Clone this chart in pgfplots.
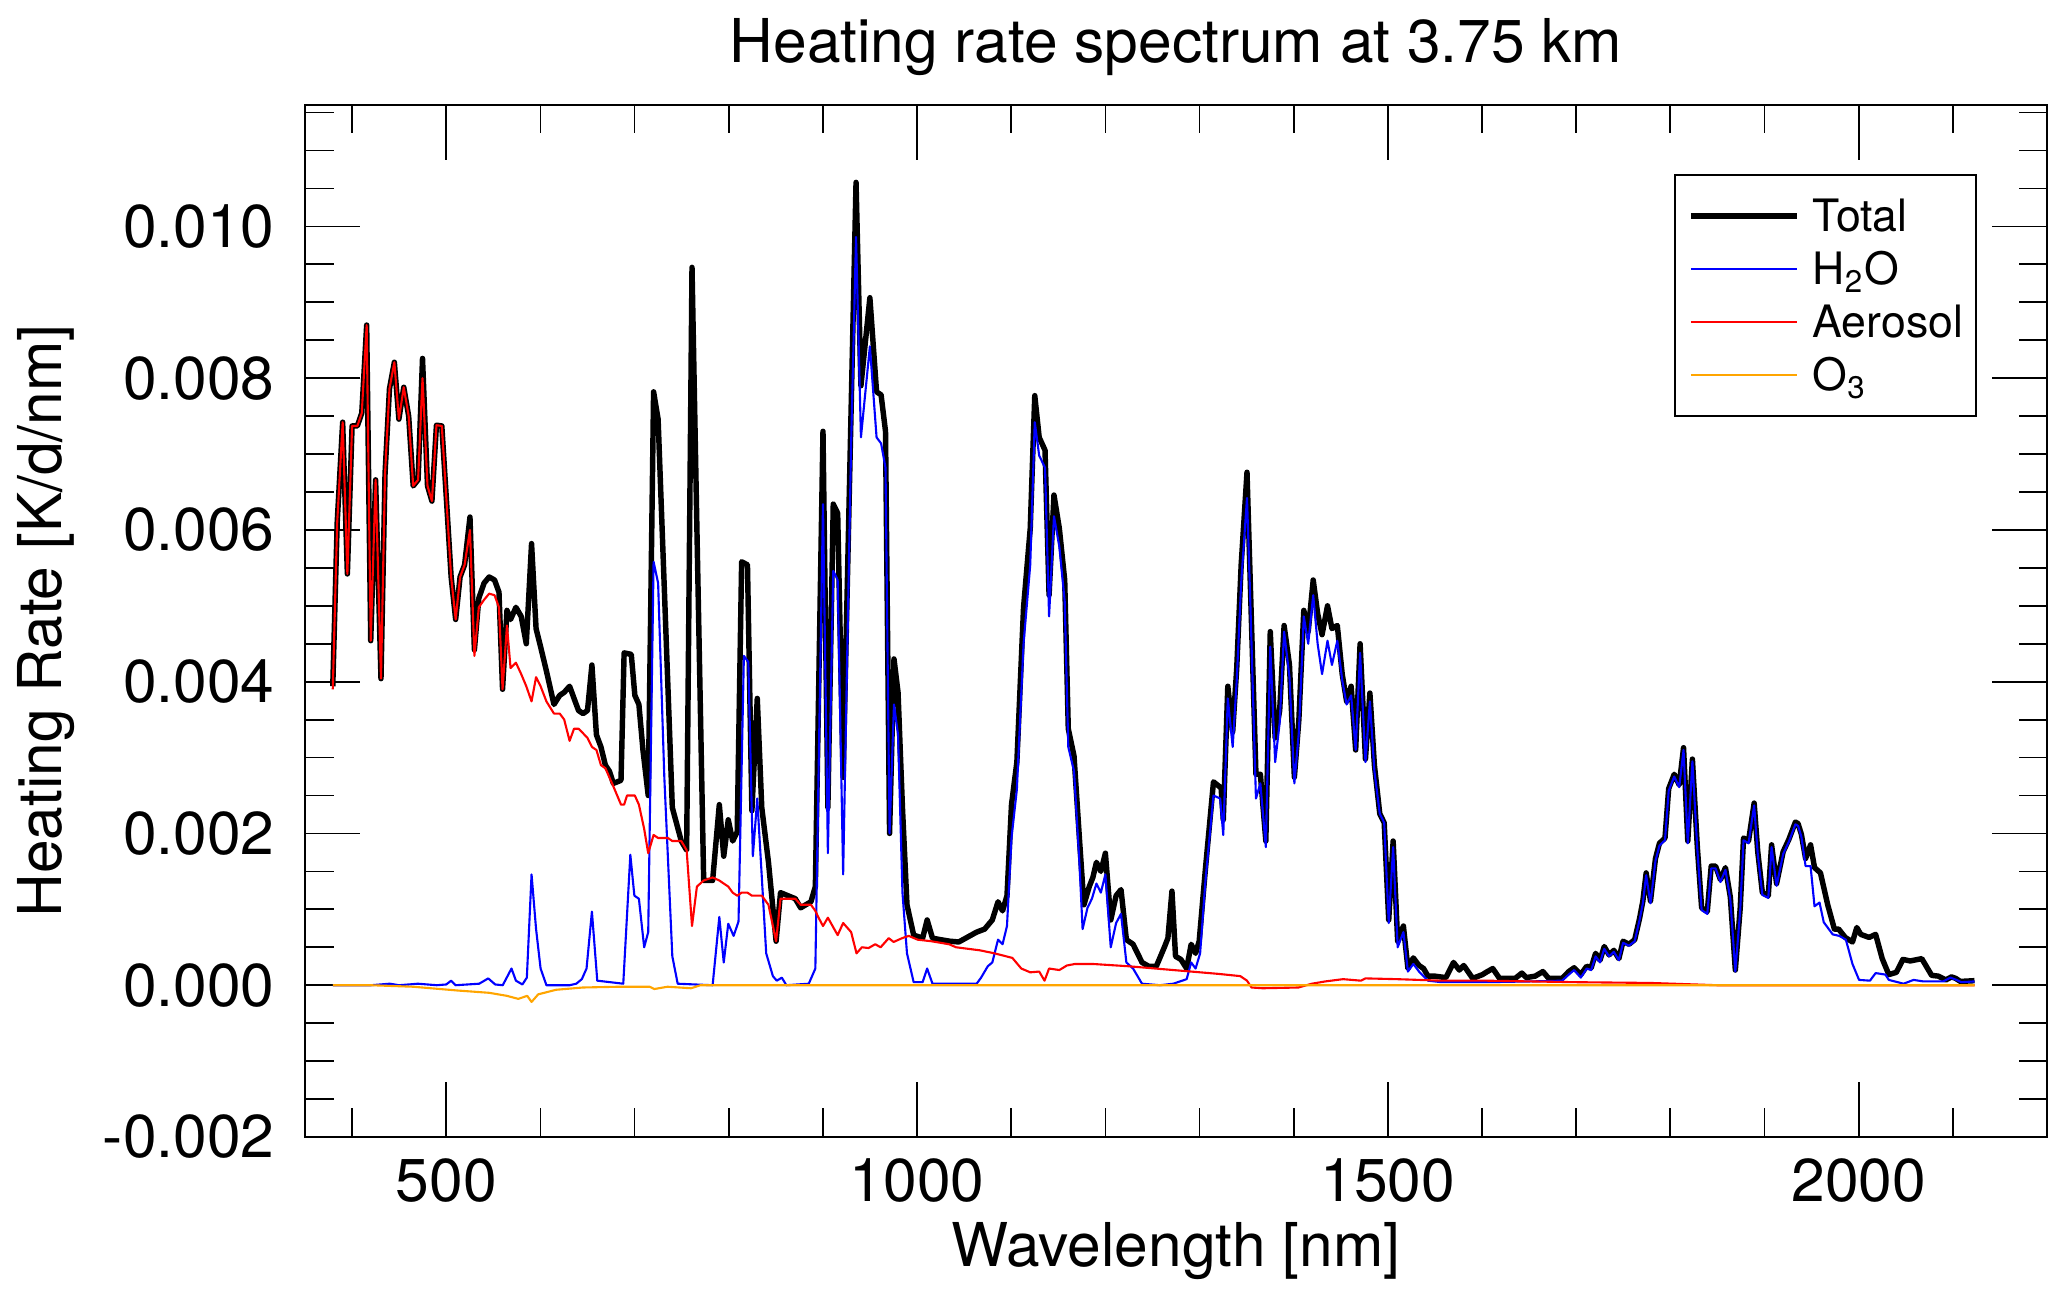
\documentclass[border=0pt]{standalone}
\usepackage{pgfplots}
\pgfplotsset{compat=1.18}
\usepackage{fontspec}
\setmainfont{TeX Gyre Heros}
\definecolor{idlorange}{RGB}{255,165,0}
\newcommand{\bigf}{\fontsize{17.2}{20}\selectfont}
\begin{document}
\begin{tikzpicture}
\begin{axis}[
  scale only axis,
  width=174.2mm, height=103.2mm,
  xmin=350, xmax=2200, ymin=-0.002, ymax=0.0116,
  xtick={500,1000,1500,2000}, xticklabels={500,1000,1500,2000},
  minor xtick={400,600,700,800,900,1100,1200,1300,1400,1600,1700,1800,1900,2100},
  ytick={-0.002,0,0.002,0.004,0.006,0.008,0.010},
  yticklabels={-0.002,0.000,0.002,0.004,0.006,0.008,0.010},
  minor ytick={-0.0015,-0.001,-0.0005,0.0005,0.001,0.0015,0.0025,0.003,0.0035,0.0045,0.005,0.0055,0.0065,0.007,0.0075,0.0085,0.009,0.0095,0.0105,0.011,0.0115},
  scaled ticks=false,
  tick align=inside,
  major tick length=5.5mm, minor tick length=2.85mm,
  tick style={black, line width=0.5pt},
  axis line style={line width=0.6pt},
  tick label style={font=\bigf, inner sep=0pt},
  xticklabel style={yshift=-2.1mm},
  yticklabel style={xshift=-3mm},
  xlabel={Wavelength [nm]},
  ylabel={Heating Rate [K/d/nm]},
  title={Heating rate spectrum at 3.75 km},
  xlabel style={font=\bigf, inner sep=0pt, at={(axis description cs:0.5,-0.0824)}, anchor=north},
  ylabel style={font=\bigf, inner sep=0pt, at={(axis description cs:-0.1653,0.5)}, anchor=north},
  every axis title/.style={font=\bigf, inner sep=0pt, at={(axis description cs:0.5,1.0843)}, anchor=north},
  legend cell align=left,
  legend image code/.code={\draw[#1] (0mm,0mm) -- (10.6mm,0mm);},
  legend style={at={(rel axis cs:1,1)}, anchor=north east, xshift=-7mm, yshift=-6.9mm,
    draw=black, line width=0.5pt, inner xsep=1.3mm, inner ysep=1.45mm,
    font=\fontsize{12.7}{15}\selectfont, row sep=0pt, column sep=1.3mm,
    nodes={inner sep=0pt, text height=4.25mm, text depth=1.05mm}},
]
\addplot[black, line width=1.55pt, line join=round] table {
379.5 0.00394
384.2 0.0061
390.0 0.00742
395.0 0.00542
400.0 0.00737
405.6 0.00737
410.3 0.00754
415.5 0.0087
419.8 0.00454
425.0 0.00666
430.7 0.00404
435.0 0.00674
439.7 0.00786
444.9 0.00821
449.7 0.00746
454.9 0.00788
460.1 0.0075
464.9 0.00658
470.1 0.00666
474.8 0.00826
480.1 0.00658
484.8 0.00638
489.6 0.00738
495.3 0.00737
500.5 0.00634
505.2 0.00538
510.0 0.00482
514.7 0.00538
519.5 0.00554
525.2 0.00617
529.9 0.00442
534.6 0.0051
540.2 0.0053
545.6 0.00538
551.3 0.00534
556.0 0.00518
559.8 0.0039
564.5 0.00494
568.3 0.00482
574.0 0.00498
579.6 0.00486
585.0 0.0045
590.6 0.00582
595.4 0.0047
600.2 0.00446
606.4 0.00414
614.4 0.0037
620.5 0.00382
625.3 0.00386
631.0 0.00394
635.7 0.00378
640.5 0.00362
645.3 0.00358
650.0 0.00362
654.7 0.00422
659.5 0.0033
664.3 0.00314
669.0 0.0029
673.3 0.00282
677.5 0.00266
685.6 0.0027
688.9 0.00438
696.5 0.00436
700.3 0.00382
704.6 0.0037
708.9 0.0031
714.5 0.0025
720.2 0.00782
725.0 0.00746
735.4 0.00394
740.1 0.00234
749.6 0.0019
755.3 0.00178
761.0 0.00946
766.2 0.00602
773.4 0.00138
782.9 0.00138
790.0 0.00238
794.7 0.0017
799.5 0.00218
804.2 0.0019
809.0 0.00202
813.7 0.00558
819.9 0.00554
824.6 0.0023
830.3 0.00378
835.1 0.00234
842.2 0.00162
850.3 0.00058
855.0 0.00122
870.7 0.00114
876.4 0.00102
887.3 0.0011
892.0 0.0013
900.1 0.0073
905.3 0.00234
911.0 0.00634
915.7 0.00622
921.5 0.00274
935.2 0.01058
940.4 0.0079
949.9 0.00906
957.0 0.00782
961.8 0.00778
966.5 0.0073
970.8 0.002
975.5 0.0043
979.8 0.00386
984.5 0.00234
989.3 0.00106
996.4 0.00066
1005.9 0.00062
1010.7 0.00086
1016.4 0.00062
1025.0 0.0006
1034.8 0.00058
1044.3 0.00057
1063.3 0.0007
1071.8 0.00074
1079.9 0.00086
1086.0 0.0011
1090.8 0.00098
1095.5 0.00118
1100.3 0.00238
1106.0 0.00294
1113.1 0.00498
1120.2 0.00602
1125.0 0.00777
1129.7 0.00722
1135.9 0.00705
1140.2 0.00514
1145.4 0.00646
1151.1 0.00602
1156.8 0.00534
1160.6 0.00338
1166.7 0.00302
1172.4 0.00194
1177.2 0.00106
1182.9 0.0013
1186.7 0.00142
1190.5 0.00162
1195.2 0.0015
1200.0 0.00174
1205.7 0.00086
1211.4 0.00118
1216.6 0.00126
1222.3 0.0006
1229.4 0.00054
1238.9 0.0003
1246.0 0.00025
1254.1 0.00025
1262.6 0.0005
1266.4 0.00062
1270.7 0.00124
1274.5 0.00038
1280.2 0.00034
1286.3 0.00022
1291.1 0.00054
1295.8 0.00042
1299.6 0.00058
1306.3 0.00154
1314.8 0.00268
1322.9 0.0026
1325.2 0.00218
1330.0 0.00394
1335.2 0.00334
1339.5 0.00418
1344.2 0.00554
1350.4 0.00676
1353.7 0.00538
1359.9 0.00278
1364.6 0.00278
1370.4 0.0019
1375.1 0.00466
1380.3 0.00326
1385.1 0.00362
1389.8 0.00474
1395.5 0.00422
1400.7 0.00274
1405.5 0.0035
1410.7 0.00494
1415.4 0.00466
1420.7 0.00534
1425.4 0.0049
1430.1 0.00462
1435.9 0.005
1440.6 0.0047
1446.3 0.00474
1451.5 0.0041
1456.2 0.00374
1461.0 0.00394
1465.8 0.0031
1470.5 0.0045
1476.2 0.00298
1480.9 0.00385
1485.7 0.0029
1491.4 0.00226
1496.1 0.00214
1500.9 0.00086
1505.6 0.0019
1510.4 0.00058
1516.5 0.00078
1521.3 0.00022
1527.0 0.00036
1533.1 0.00026
1537.9 0.00022
1542.6 0.00012
1549.7 0.00012
1561.6 0.0001
1569.7 0.0003
1575.9 0.0002
1580.6 0.00026
1590.1 0.00009
1600.5 0.00014
1604.3 0.00017
1611.4 0.00022
1618.6 0.00009
1635.2 0.00009
1642.3 0.00016
1647.0 0.0001
1656.5 0.00012
1664.6 0.00018
1670.8 0.00009
1685.0 0.00009
1692.1 0.00018
1697.8 0.00023
1704.9 0.00014
1711.1 0.00025
1715.9 0.00023
1720.6 0.00042
1725.3 0.00033
1729.8 0.00051
1734.9 0.0004
1740.0 0.00046
1745.3 0.00035
1749.8 0.00058
1756.1 0.00054
1762.1 0.0006
1767.3 0.00088
1770.8 0.00111
1774.3 0.00148
1778.9 0.00111
1784.2 0.00167
1788.4 0.00187
1794.3 0.00194
1798.2 0.00259
1804.1 0.00278
1809.4 0.00264
1814.0 0.00313
1818.5 0.0019
1823.4 0.00298
1828.7 0.00181
1833.2 0.00102
1839.2 0.00097
1843.4 0.00157
1848.0 0.00157
1853.2 0.00139
1858.5 0.00155
1863.7 0.00116
1869.0 0.0002
1874.2 0.00102
1877.7 0.00194
1883.0 0.0019
1889.0 0.0024
1892.8 0.00176
1897.7 0.00122
1904.0 0.00118
1907.5 0.00185
1912.8 0.00134
1919.8 0.00176
1925.8 0.00192
1932.8 0.00215
1935.6 0.00213
1939.1 0.00199
1943.6 0.00167
1948.9 0.00185
1953.1 0.00155
1959.4 0.00148
1967.1 0.00106
1974.2 0.00074
1978.7 0.00074
1985.7 0.00063
1993.4 0.00057
1998.0 0.00076
2002.2 0.00067
2011.0 0.00063
2018.0 0.00067
2025.0 0.00035
2032.0 0.00014
2040.0 0.00017
2047.0 0.00034
2054.7 0.00032
2067.0 0.00035
2077.5 0.00013
2084.5 0.00012
2092.6 0.00007
2098.6 0.00011
2103.0 0.00009
2108.0 0.00005
2123.0 0.00006
};
\addlegendentry{Total}
\addplot[blue, line width=0.6pt, line join=round] table {
379.5 0
420 0
440 0.00002
450 0
470 0.00002
490 0
500 0.00001
505.2 0.00006
510 0
535 0.00002
544.6 0.00009
552 0.00001
560 0
569.3 0.00022
574 0.00006
580.9 0.00001
585.6 0.0001
590.6 0.00146
595.4 0.00074
600.2 0.00022
606.4 0
631 0
638.1 0.00002
644 0.00008
649 0.00022
654.7 0.00097
660.4 0.00006
688 0.00002
695.5 0.00172
699.8 0.00118
704.6 0.00114
710.2 0.0005
714.5 0.0007
720.2 0.00558
725 0.0053
731.6 0.00274
740.1 0.00038
745.8 0.00002
782.9 0
790 0.0009
794.7 0.0003
799.5 0.00081
805.2 0.00065
810.4 0.00084
816.1 0.00434
820.8 0.00426
825.6 0.0017
830.3 0.00246
839.8 0.00042
846.9 0.00012
851 0.00006
856.4 0.0001
861.2 0
885 0.00002
892 0.00022
900.1 0.00634
905.3 0.00174
911 0.00546
915.7 0.00534
921.5 0.00146
930 0.00714
935.2 0.00986
940.4 0.00722
949.9 0.00842
957 0.00722
961.8 0.00714
966.5 0.00682
970.8 0.002
975.5 0.0037
979.8 0.0033
984.5 0.00122
989.3 0.00042
996.4 0.00004
1005.9 0.00004
1010.7 0.00022
1016.4 0.00002
1063.3 0.00002
1068.0 0.0001
1075.1 0.00025
1079.9 0.0003
1086.0 0.0006
1090.8 0.00054
1095.5 0.00078
1100.3 0.00194
1106.0 0.00258
1113.1 0.0045
1120.2 0.00554
1125.0 0.00742
1129.7 0.00698
1135.9 0.00682
1140.2 0.00486
1145.4 0.00618
1151.1 0.00578
1156.8 0.00506
1160.6 0.00314
1166.7 0.00282
1172.4 0.00162
1175.8 0.00074
1181.0 0.00102
1185.7 0.00114
1190.5 0.00134
1195.2 0.00122
1200.0 0.00146
1205.7 0.0005
1211.4 0.00082
1216.6 0.00094
1222.3 0.0003
1229.4 0.00022
1238.9 0.00002
1257.9 0
1272.1 0.00002
1281.6 0.00006
1286.3 0.00008
1291.1 0.0003
1295.8 0.00022
1300.6 0.00042
1306.3 0.00138
1314.8 0.0025
1321.9 0.00246
1325.2 0.00198
1330.0 0.00378
1335.2 0.00314
1339.5 0.00402
1344.2 0.0053
1350.4 0.00642
1353.7 0.00514
1359.9 0.00246
1364.6 0.00266
1370.4 0.00182
1375.1 0.00446
1380.3 0.00294
1385.1 0.00346
1389.8 0.00466
1395.5 0.00406
1400.7 0.00266
1405.5 0.00334
1410.7 0.00486
1415.4 0.0045
1420.7 0.00514
1425.4 0.0045
1430.1 0.0041
1435.9 0.00454
1440.6 0.00422
1446.3 0.00454
1451.5 0.00402
1456.2 0.0037
1461.0 0.00382
1465.8 0.0031
1470.5 0.00438
1476.2 0.00294
1480.9 0.00374
1485.7 0.00282
1491.4 0.00226
1496.1 0.00214
1500.9 0.00082
1505.6 0.00182
1510.4 0.0005
1516.5 0.0007
1521.3 0.00018
1527.0 0.00028
1533.1 0.00018
1542.6 0.00006
1557.0 0.00004
1604.3 0.00004
1651.8 0.00005
1685.0 0.00006
1692.1 0.00014
1697.8 0.0002
1704.9 0.0001
1711.1 0.00022
1715.9 0.0002
1720.6 0.00038
1725.3 0.0003
1729.8 0.00048
1734.9 0.00038
1740.0 0.00044
1745.3 0.00033
1749.8 0.00056
1756.1 0.00052
1762.1 0.00058
1767.3 0.00086
1770.8 0.00108
1774.3 0.00145
1778.9 0.00108
1784.2 0.00164
1788.4 0.00184
1794.3 0.00191
1798.2 0.00256
1804.1 0.00275
1809.4 0.00261
1814.0 0.0031
1818.5 0.00187
1823.4 0.00295
1828.7 0.00178
1833.2 0.00099
1839.2 0.00094
1843.4 0.00154
1848.0 0.00154
1853.2 0.00136
1858.5 0.00152
1863.7 0.00113
1869.0 0.00018
1874.2 0.00099
1877.7 0.00191
1883.0 0.00187
1889.0 0.00237
1892.8 0.00173
1897.7 0.00119
1904.0 0.00115
1907.5 0.00182
1912.8 0.00131
1919.8 0.00173
1925.8 0.00189
1932.8 0.00212
1935.6 0.0021
1939.1 0.00196
1943.6 0.00157
1948.9 0.00157
1953.1 0.00104
1958.4 0.00109
1962.9 0.00083
1972.4 0.00067
1979.4 0.00065
1986.4 0.0006
1993.4 0.00028
2000.4 0.00007
2012.0 0.00006
2018.0 0.00016
2028.4 0.00014
2032.0 0.00007
2047.7 0.00002
2058.3 0.00007
2068.7 0.00005
2089.7 0.00005
2097.5 0.0001
2103.8 0.00007
2109.0 0.00004
2123.0 0.00005
};
\addlegendentry{H\textsubscript{2}O}
\addplot[red, line width=0.6pt, line join=round] table {
379.5 0.0039
384.2 0.0061
390.0 0.00742
395.0 0.00542
400.0 0.00737
405.6 0.00737
410.3 0.00754
415.5 0.0087
419.8 0.00454
425.0 0.00666
430.7 0.00404
435.0 0.00674
439.7 0.00786
444.9 0.00821
449.7 0.00746
454.9 0.00788
460.1 0.0075
464.9 0.00658
470.1 0.00666
474.8 0.008
480.1 0.00658
484.8 0.00638
489.6 0.00738
495.3 0.00737
500.5 0.00634
505.2 0.00538
510.0 0.00482
514.7 0.00538
519.5 0.00554
525.2 0.006
529.9 0.00434
534.6 0.00498
540.2 0.00508
545.6 0.00516
551.3 0.00514
556.0 0.00498
559.8 0.0039
564.5 0.00474
568.3 0.00418
574.0 0.00425
579.6 0.0041
585.0 0.00394
590.6 0.00374
595.4 0.00406
600.2 0.00394
606.4 0.00374
614.4 0.00358
620.5 0.00358
625.3 0.0035
631.0 0.00322
635.7 0.00338
640.5 0.00338
645.3 0.00332
650.0 0.00326
654.7 0.00314
659.5 0.0031
664.3 0.0029
669.0 0.00286
677.5 0.00262
685.6 0.00238
688.9 0.00238
692.0 0.0025
696.5 0.0025
700.3 0.0025
704.6 0.00238
710.2 0.00206
714.5 0.00174
720.2 0.00198
725.0 0.00194
735.4 0.00194
740.1 0.0019
749.6 0.0019
755.3 0.00178
761.0 0.00078
766.2 0.0013
773.4 0.00138
782.9 0.00142
790.0 0.00138
794.7 0.00134
799.5 0.0013
804.2 0.00122
809.0 0.00118
813.7 0.00122
819.9 0.00122
824.6 0.00118
830.3 0.00118
835.1 0.00118
842.2 0.00106
850.3 0.00058
855.0 0.00114
870.7 0.00114
876.4 0.00106
887.3 0.00106
892.0 0.00098
895.0 0.0009
900.1 0.00078
905.3 0.00089
915.7 0.00066
921.5 0.00082
930.0 0.0007
935.7 0.00042
941.4 0.0005
948.5 0.00049
955.6 0.00054
961.3 0.0005
969.9 0.00062
975.1 0.00057
984.1 0.00062
991.2 0.00065
1000.7 0.0006
1014.9 0.00058
1034.0 0.00054
1041.5 0.0005
1066.7 0.00046
1082.3 0.00042
1101.2 0.00036
1110.7 0.00022
1120.2 0.00017
1129.7 0.00018
1135.4 0.00006
1140.2 0.00022
1151.1 0.0002
1159.1 0.00026
1167.7 0.00028
1186.7 0.00028
1224.6 0.00025
1262.6 0.00021
1291.1 0.00018
1319.6 0.00015
1343.3 0.00012
1350.4 0.00006
1355.2 -0.00003
1367.0 -0.00004
1405.0 -0.00003
1419.2 0.00002
1433.5 0.00005
1452.4 0.00008
1471.4 0.00006
1476.2 0.00009
1509.4 0.00008
1556.9 0.00006
1604.3 0.00006
1700.0 0.00004
1779.0 0.00003
1850.0 0.0
2123.0 0.0
};
\addlegendentry{Aerosol}
\addplot[idlorange, line width=0.6pt, line join=round] table {
379.5 0
420 0
464.9 -0.00002
512.3 -0.00007
545.6 -0.0001
564.5 -0.00014
576.5 -0.00018
586.0 -0.00014
590.6 -0.00022
597.7 -0.00012
616.7 -0.00006
645.0 -0.00003
683.0 -0.00002
716.0 -0.00002
721.0 -0.00005
735.0 -0.00002
760.0 -0.00004
770.0 0
2123.0 0
};
\addlegendentry{O\textsubscript{3}}
\coordinate (bl) at (rel axis cs:0,0);
\coordinate (tr) at (rel axis cs:1,1);
\end{axis}
\pgfresetboundingbox
\path ([shift={(-30.5mm,-16.3mm)}]bl) rectangle ([shift={(2mm,10.5mm)}]tr);
\end{tikzpicture}
\end{document}
